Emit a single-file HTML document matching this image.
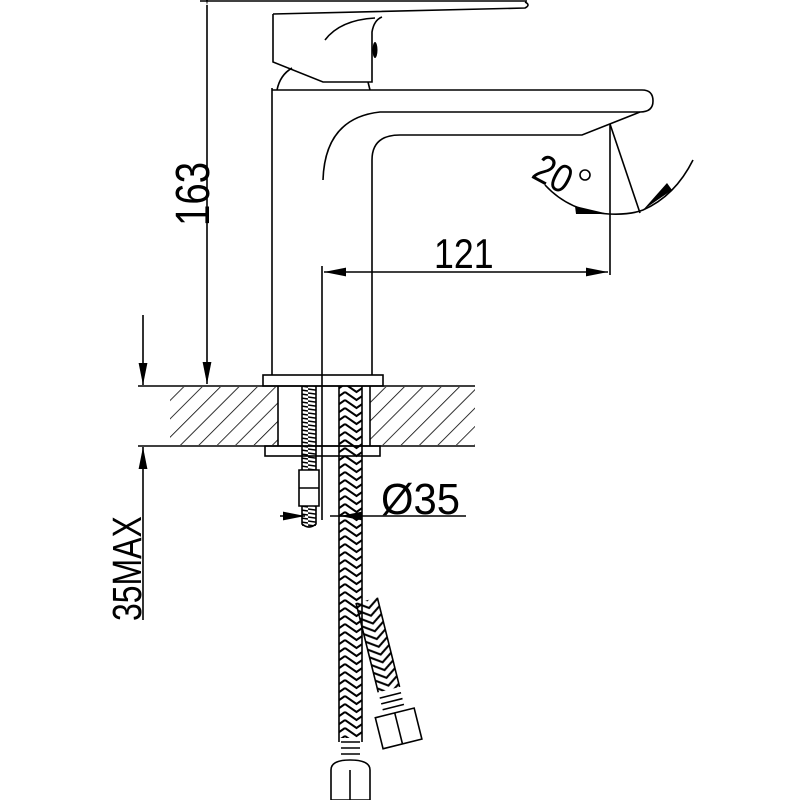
<!DOCTYPE html>
<html><head><meta charset="utf-8"><style>
html,body{margin:0;padding:0;background:#fff;}
svg{display:block}
text{font-family:"Liberation Sans",sans-serif;fill:#000}
</style></head><body>
<svg width="800" height="800" viewBox="0 0 800 800" xmlns="http://www.w3.org/2000/svg">
<defs>
<pattern id="hatch" width="13" height="13" patternUnits="userSpaceOnUse" patternTransform="rotate(45)">
<line x1="0" y1="0" x2="0" y2="13" stroke="#000" stroke-width="1.6"/>
</pattern>
<pattern id="braid" width="23" height="16" patternUnits="userSpaceOnUse">
<path d="M0,0 L11.5,8 L23,0 M0,8 L11.5,16 L23,8 M0,16 L11.5,24 L23,16 M0,-8 L11.5,0 L23,-8" stroke="#000" stroke-width="2" fill="none"/>
</pattern>
<pattern id="thread" width="14" height="4" patternUnits="userSpaceOnUse">
<line x1="0" y1="1" x2="14" y2="3" stroke="#000" stroke-width="1.6"/>
</pattern>
<marker id="arB" viewBox="0 0 10 10" refX="10" refY="5" markerWidth="22" markerHeight="22" markerUnits="userSpaceOnUse" orient="auto">
<path d="M0,3 L10,5 L0,7 Z" fill="#000"/>
</marker>
</defs>
<g stroke="#000" stroke-width="1.6" fill="none">
<line x1="138" y1="386" x2="475" y2="386"/>
<line x1="138" y1="446" x2="475" y2="446"/>
<rect x="170" y="387" width="108" height="58" fill="url(#hatch)" stroke="none"/>
<rect x="370" y="387" width="105" height="58" fill="url(#hatch)" stroke="none"/>
<line x1="278" y1="386" x2="278" y2="446"/>
<line x1="370" y1="386" x2="370" y2="446"/>
<line x1="200" y1="1" x2="527" y2="1"/>
<line x1="207" y1="5" x2="207" y2="384" marker-start="url(#arB)" marker-end="url(#arB)"/>
<line x1="143" y1="315" x2="143" y2="385" marker-end="url(#arB)"/>
<line x1="143" y1="620" x2="143" y2="447" marker-end="url(#arB)"/>
<rect x="263" y="375" width="120" height="11"/>
<line x1="272" y1="88" x2="272" y2="375"/>
<line x1="372" y1="160" x2="372" y2="375"/>
<rect x="265" y="446" width="115" height="10"/>
<path d="M272,90 L642,90 Q653,90 653,101 Q653,112 640,112 L380,112 Q325,118 323,180"/>
<path d="M372,160 Q372,135 400,135 L582,135 L640,112"/>
<line x1="610" y1="124" x2="610" y2="275"/>
<line x1="610" y1="124" x2="640" y2="213"/>
<path d="M545,185 Q570,212 609,214 Q630,215 643,210 Q675,196 693,160"/>
<path d="M575,206 L609,214 L576,214 Z" fill="#000" stroke="none"/>
<path d="M672,190 L643,210 L667,183 Z" fill="#000" stroke="none"/>
<path d="M273,14 L525,8 Q531,5 525,2"/>
<path d="M273,14 L273,62 L323,82 L372,82 L372,32 Q374,20 382,17"/>
<path d="M325,40 Q340,20 375,18"/>
<ellipse cx="375" cy="50" rx="2.5" ry="8" fill="#000" stroke="none"/>
<path d="M277,90 Q280,75 292,68"/>
<path d="M368,82 L370,90"/>
<line x1="322" y1="266" x2="322" y2="520"/>
<line x1="400" y1="272" x2="324" y2="272" marker-end="url(#arB)"/>
<line x1="400" y1="272" x2="608" y2="272" marker-end="url(#arB)"/>
<rect x="302" y="386" width="14" height="140" fill="url(#thread)" stroke="none"/>
<line x1="302" y1="386" x2="302" y2="470"/><line x1="316" y1="386" x2="316" y2="470"/>
<path d="M299,470 L319,470 L319,506 L299,506 Z" fill="#fff"/>
<line x1="299" y1="488" x2="319" y2="488"/>
<path d="M302,506 L302,524 Q309,530 316,524 L316,506"/>
<line x1="330" y1="516" x2="466" y2="516"/>
<line x1="280" y1="516" x2="305" y2="516" marker-end="url(#arB)"/>
<line x1="360" y1="516" x2="340" y2="516" marker-end="url(#arB)"/>
<g transform="translate(356,603) rotate(-14)">
<rect x="0" y="0" width="22" height="92" fill="url(#braid)" stroke="none"/>
<line x1="0" y1="0" x2="0" y2="92"/><line x1="22" y1="0" x2="22" y2="92"/>
<path d="M0,98 L22,98 M0,104 L22,104 M0,110 L22,110"/>
<rect x="-9" y="116" width="40" height="32" fill="#fff"/>
<line x1="11" y1="116" x2="11" y2="148"/>
</g>
<rect x="339" y="386" width="23" height="352" fill="url(#braid)" stroke="none"/>
<line x1="339" y1="386" x2="339" y2="742"/><line x1="362" y1="386" x2="362" y2="742"/>
<path d="M341,742 L360,742 M341,748 L360,748 M341,754 L360,754"/>
<path d="M331,770 Q331,760 350,760 Q370,760 370,770 L370,800 L331,800 Z" fill="#fff"/>
<line x1="350" y1="770" x2="350" y2="800"/>
</g>
<text x="0" y="0" font-size="48" transform="translate(209,226) rotate(-90) scale(0.8,1)">163</text>
<text x="0" y="0" font-size="41" transform="translate(141,621) rotate(-90) scale(0.78,1)">35MAX</text>
<text x="0" y="0" font-size="42" transform="translate(434,268) scale(0.85,1)">121</text>
<text x="0" y="0" font-size="40" transform="translate(530,177) rotate(28) scale(0.85,1)">20</text>
<circle cx="585" cy="175" r="5" fill="none" stroke="#000" stroke-width="1.6"/>
<text x="0" y="0" font-size="44" transform="translate(381,514) scale(0.95,1)">Ø35</text>
</svg>
</body></html>
